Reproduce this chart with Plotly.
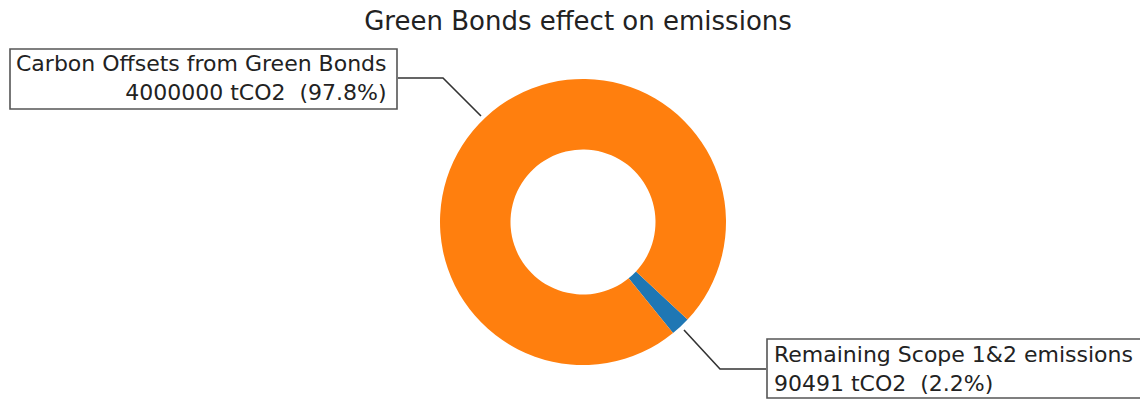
import plotly.graph_objects as go

# Emissions breakdown (tCO2)
labels = ["Remaining Scope 1&2 emissions", "Carbon Offsets from Green Bonds"]
values = [90491, 4000000]
colors = ["#1f77b4", "#ff7f0e"]
title = "Green Bonds effect on emissions"

W, H = 1140, 400
total = sum(values)
shares = [v / total for v in values]


def px(x):
    return x / W


def py(y):
    return 1 - y / H


# donut geometry in pixels
cx, cy, R = 583, 222, 143

# keep the small slice centred at 137 deg clockwise from 12 o'clock
rotation = 137 - 360 * shares[0] / 2

fig = go.Figure(
    go.Pie(
        labels=labels,
        values=values,
        marker=dict(colors=colors, line=dict(width=0)),
        hole=0.507,
        sort=False,
        direction="counterclockwise",
        rotation=rotation,
        textinfo="none",
        hoverinfo="label+value+percent",
        domain=dict(x=[px(cx - R), px(cx + R)], y=[py(cy + R), py(cy - R)]),
    )
)

texts = [f"{lab}<br>{val} tCO2  ({s * 100:.1f}%)" for lab, val, s in zip(labels, values, shares)]

font = dict(family="DejaVu Sans", size=22, color="#222222")
line_style = dict(color="#333333", width=1.6)
box_style = dict(color="#555555", width=1.6)

shapes = [
    # label boxes
    dict(type="rect", xref="paper", yref="paper",
         x0=px(10), x1=px(397), y0=py(109), y1=py(49), line=box_style),
    dict(type="rect", xref="paper", yref="paper",
         x0=px(767), x1=px(1160), y0=py(398), y1=py(339), line=box_style),
    # leader lines
    dict(type="path", xref="paper", yref="paper",
         path=f"M {px(398)},{py(78)} L {px(443)},{py(78)} L {px(481)},{py(116)}",
         line=line_style),
    dict(type="path", xref="paper", yref="paper",
         path=f"M {px(684)},{py(330)} L {px(720)},{py(369)} L {px(766)},{py(369)}",
         line=line_style),
]

annotations = [
    dict(text=texts[1], xref="paper", yref="paper", x=px(389), y=py(78),
         xanchor="right", yanchor="middle", align="right", showarrow=False, font=font),
    dict(text=texts[0], xref="paper", yref="paper", x=px(772), y=py(369),
         xanchor="left", yanchor="middle", align="left", showarrow=False, font=font),
]

fig.update_layout(
    width=W,
    height=H,
    margin=dict(l=0, r=0, t=0, b=0),
    paper_bgcolor="white",
    plot_bgcolor="white",
    showlegend=False,
    title=dict(text=title, x=px(578), xanchor="center", y=py(21), yanchor="middle",
               font=dict(family="DejaVu Sans", size=26, color="#222222")),
    shapes=shapes,
    annotations=annotations,
)

fig.write_html("out.html")
